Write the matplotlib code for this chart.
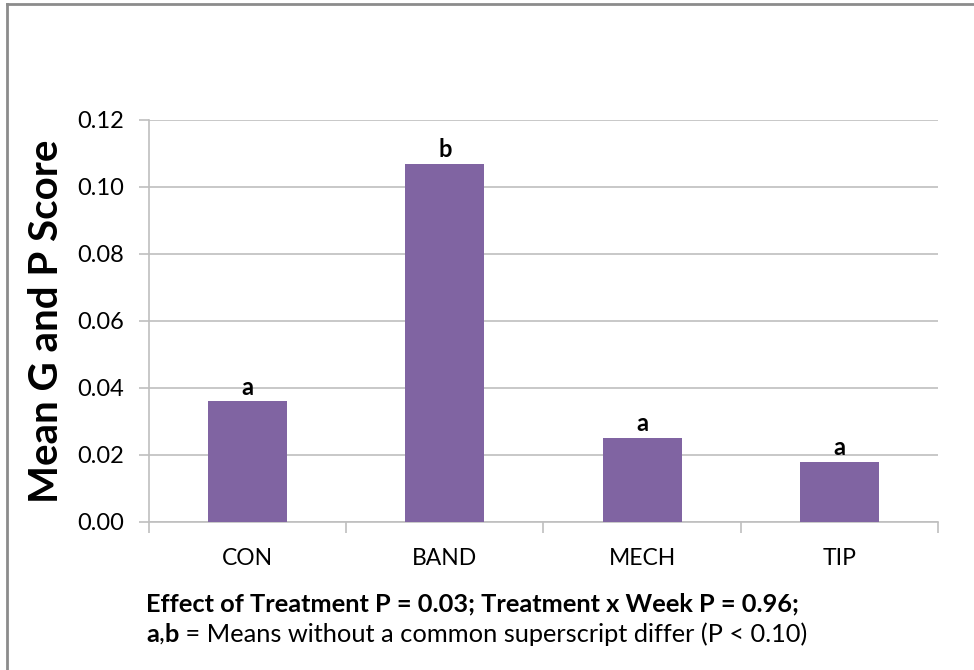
"""
Bar chart of mean G and P score by treatment.
"""
import numpy as np
import matplotlib
matplotlib.use("Agg")
import matplotlib.pyplot as plt
from matplotlib.lines import Line2D

plt.rcParams['font.family'] = ['Lato', 'DejaVu Sans']

# Data
treatments = ['CON', 'BAND', 'MECH', 'TIP']
mean_scores = [0.036, 0.107, 0.025, 0.018]
letters = ['a', 'b', 'a', 'a']
yticks = [0.00, 0.02, 0.04, 0.06, 0.08, 0.10, 0.12]

bar_color = '#8064A2'
grid_color = '#BFBFBF'

fig = plt.figure(figsize=(9.74, 6.70), dpi=100)
ax = fig.add_axes([0.153, 0.2209, 0.810, 0.600])

x = np.arange(len(treatments))
ax.bar(x, mean_scores, width=0.4, color=bar_color, zorder=3)

for xi, val, lab in zip(x, mean_scores, letters):
    ax.annotate(lab, (xi, val), xytext=(0, 2), textcoords='offset points',
                ha='center', va='bottom', fontsize=17, fontweight='bold', zorder=4)

ax.set_xlim(-0.5, len(treatments) - 0.5)
ax.set_ylim(0, 0.12)
ax.set_yticks(yticks)
ax.set_yticklabels([f"{t:.2f}" for t in yticks], fontsize=17)
ax.yaxis.grid(True, color=grid_color, linewidth=1.2, zorder=0)

# category labels centred, tick marks between categories
ax.set_xticks(x)
ax.set_xticklabels(treatments, fontsize=16.5)
ax.tick_params(axis='x', length=0, pad=19)
ax.set_xticks(np.arange(-0.5, len(treatments)), minor=True)
ax.tick_params(axis='x', which='minor', length=8, color=grid_color, width=1.2)
ax.tick_params(axis='y', length=7, color=grid_color, width=1.2, pad=11)

for side in ['top', 'right']:
    ax.spines[side].set_visible(False)
for side in ['left', 'bottom']:
    ax.spines[side].set_color(grid_color)
    ax.spines[side].set_linewidth(1.2)

ax.set_ylabel('Mean G and P Score', fontsize=29, fontweight='bold', labelpad=9)

# footnote lines, second line mixes bold and regular text
note_size = 18.3
fig.text(0.150, 0.098, 'Effect of Treatment P = 0.03; Treatment x Week P = 0.96;',
         fontsize=note_size, fontweight='bold', va='center', ha='left')
a1 = fig.text(0.150, 0.053, 'a', fontsize=note_size, fontweight='bold', va='center', ha='left')
c1 = fig.text(0, 0, ',', fontsize=note_size)
c1.remove()
c1 = plt.annotate(',', xy=(1, 0), xycoords=a1, fontsize=note_size, va='bottom', ha='left')
b1 = plt.annotate('b', xy=(1, 0), xycoords=c1, fontsize=note_size, fontweight='bold',
                  va='bottom', ha='left')
plt.annotate(' = Means without a common superscript differ (P < 0.10)', xy=(1, 0),
             xycoords=b1, fontsize=note_size, va='bottom', ha='left')

# outer frame (top and left edges visible)
fig.add_artist(Line2D([0.0072, 0.0072], [0, 0.994], transform=fig.transFigure,
                      color='#8C8C8C', linewidth=2))
fig.add_artist(Line2D([0.0072, 1.0], [0.994, 0.994], transform=fig.transFigure,
                      color='#8C8C8C', linewidth=2))

fig.savefig('out.png', dpi=100)
